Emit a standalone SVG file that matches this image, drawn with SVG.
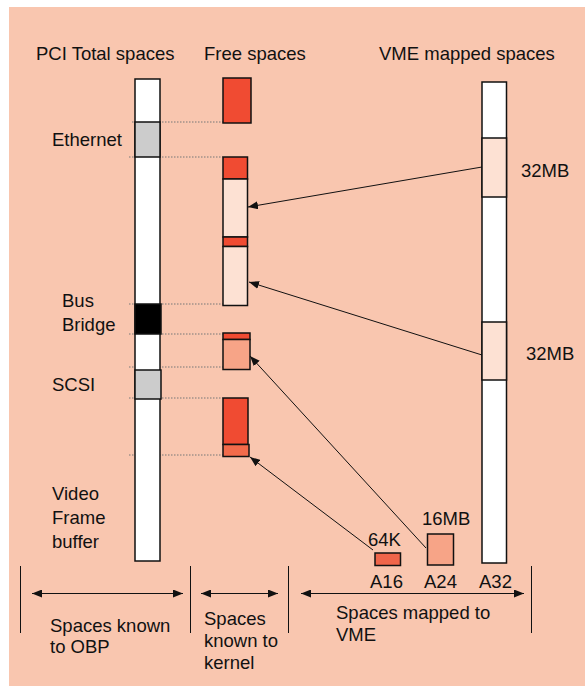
<svg xmlns="http://www.w3.org/2000/svg" width="585" height="686" viewBox="0 0 585 686">
<defs>
<style>
text{font-family:"Liberation Sans",Arial,sans-serif;font-size:18.5px;fill:#111}
.bar{stroke:#111;stroke-width:1.5}
.dot{stroke:#777;stroke-width:1;stroke-dasharray:1.5,1.5;fill:none}
.ln{stroke:#111;stroke-width:1;fill:none}
</style>
<marker id="ah" viewBox="0 0 10 8" refX="10" refY="4" markerWidth="10" markerHeight="8" markerUnits="userSpaceOnUse" orient="auto-start-reverse"><path d="M0,0L10,4L0,8Z" fill="#111"/></marker>
</defs>
<rect x="9" y="7" width="576" height="679" fill="#F9C6AF"/>
<g id="headers">
<text x="36" y="60">PCI Total spaces</text>
<text x="204" y="60">Free spaces</text>
<text x="379" y="60">VME mapped spaces</text>
</g>
<g id="guides">
<line class="dot" x1="132" y1="122" x2="227" y2="122"/>
<line class="dot" x1="129" y1="157" x2="223" y2="157"/>
<line class="dot" x1="129" y1="304" x2="223" y2="304"/>
<line class="dot" x1="129" y1="334" x2="223" y2="334"/>
<line class="dot" x1="129" y1="367" x2="223" y2="367"/>
<line class="dot" x1="129" y1="398" x2="223" y2="398"/>
<line class="dot" x1="129" y1="455" x2="223" y2="455"/>
</g>
<g id="pci">
<rect class="bar" x="135" y="79" width="25" height="482" fill="#fff"/>
<rect class="bar" x="135" y="122" width="25" height="35" fill="#CCCCCC"/>
<rect class="bar" x="135" y="304" width="26" height="30" fill="#000"/>
<rect class="bar" x="135" y="370" width="26" height="29" fill="#CCCCCC"/>
<text x="52" y="146">Ethernet</text>
<text x="62" y="307">Bus</text>
<text x="62" y="331">Bridge</text>
<text x="52" y="391">SCSI</text>
<text x="52" y="500">Video</text>
<text x="52" y="524">Frame</text>
<text x="52" y="548">buffer</text>
</g>
<g id="free">
<rect class="bar" x="223" y="78" width="28" height="45" fill="#F04B32"/>
<rect class="bar" x="223" y="157" width="24.5" height="22" fill="#F04B32"/>
<rect class="bar" x="223" y="179" width="24.5" height="58" fill="#FDE1D3"/>
<rect class="bar" x="223" y="237" width="24.5" height="9.5" fill="#F04B32"/>
<rect class="bar" x="223" y="246.5" width="24.5" height="59" fill="#FDE1D3"/>
<rect class="bar" x="223" y="333" width="27" height="6.5" fill="#F04B32"/>
<rect class="bar" x="223" y="339.5" width="27" height="30" fill="#F7A487"/>
<rect class="bar" x="223" y="398" width="25" height="46.5" fill="#F04B32"/>
<rect class="bar" x="223" y="444.5" width="26" height="12" fill="#F26B4B"/>
</g>
<g id="vme">
<rect class="bar" x="482" y="82" width="24.5" height="481" fill="#fff"/>
<rect class="bar" x="482" y="138" width="24.5" height="59" fill="#FDE1D3"/>
<rect class="bar" x="482" y="322" width="24.5" height="58" fill="#FDE1D3"/>
<text x="521" y="177">32MB</text>
<text x="526" y="360">32MB</text>
<rect class="bar" x="375" y="553" width="25.5" height="12.5" fill="#F0654A"/>
<rect class="bar" x="427.5" y="534" width="26" height="31" fill="#F7A487"/>
<text x="368" y="546">64K</text>
<text x="422" y="525">16MB</text>
<text x="370" y="588">A16</text>
<text x="424" y="588">A24</text>
<text x="479" y="588">A32</text>
</g>
<g id="connectors">
<line class="ln" x1="482" y1="167" x2="248" y2="207" marker-end="url(#ah)"/>
<line class="ln" x1="482" y1="355" x2="249" y2="282" marker-end="url(#ah)"/>
<line class="ln" x1="426" y1="548" x2="250" y2="356" marker-end="url(#ah)"/>
<line class="ln" x1="373" y1="550" x2="250" y2="457" marker-end="url(#ah)"/>
</g>
<g id="ranges">
<line class="ln" x1="20.5" y1="566" x2="20.5" y2="633"/>
<line class="ln" x1="190.5" y1="566" x2="190.5" y2="633"/>
<line class="ln" x1="288.5" y1="566" x2="288.5" y2="633"/>
<line class="ln" x1="531.5" y1="566" x2="531.5" y2="633"/>
<line class="ln" x1="32" y1="593.5" x2="183" y2="593.5" marker-start="url(#ah)" marker-end="url(#ah)"/>
<line class="ln" x1="201" y1="593.5" x2="278" y2="593.5" marker-start="url(#ah)" marker-end="url(#ah)"/>
<line class="ln" x1="301" y1="593.5" x2="524" y2="593.5" marker-start="url(#ah)" marker-end="url(#ah)"/>
<text x="50" y="632">Spaces known</text>
<text x="50" y="653">to OBP</text>
<text x="204" y="625">Spaces</text>
<text x="204" y="647">known to</text>
<text x="204" y="669">kernel</text>
<text x="336" y="619">Spaces mapped to</text>
<text x="336" y="641">VME</text>
</g>
</svg>
